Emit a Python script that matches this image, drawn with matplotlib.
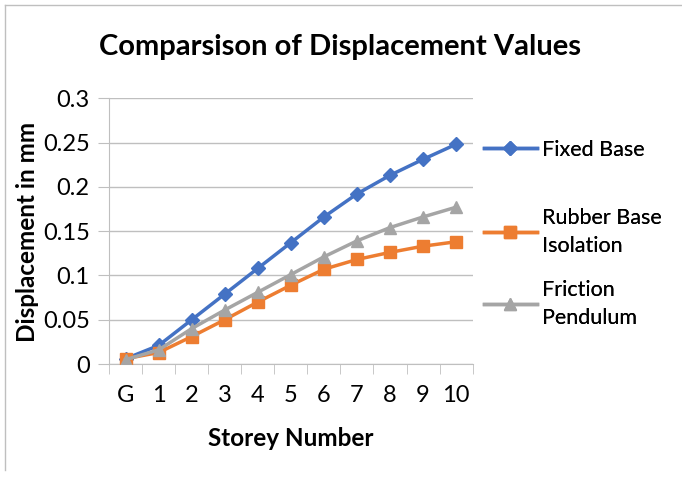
import matplotlib.pyplot as plt
from matplotlib.lines import Line2D

plt.rcParams['font.family'] = ['Lato', 'DejaVu Sans']

storeys = ["G", "1", "2", "3", "4", "5", "6", "7", "8", "9", "10"]
fixed_base = [0.006, 0.021, 0.050, 0.079, 0.108, 0.137, 0.166, 0.192, 0.213, 0.231, 0.248]
rubber_base = [0.006, 0.013, 0.031, 0.050, 0.070, 0.089, 0.107, 0.118, 0.126, 0.133, 0.138]
friction_pendulum = [0.005, 0.016, 0.040, 0.061, 0.081, 0.101, 0.121, 0.139, 0.154, 0.166, 0.177]
series_names = ["Fixed Base", "Rubber Base\nIsolation", "Friction\nPendulum"]
y_ticks = [0, 0.05, 0.1, 0.15, 0.2, 0.25, 0.3]
y_tick_labels = ["0", "0.05", "0.1", "0.15", "0.2", "0.25", "0.3"]

fig = plt.figure(figsize=(6.82, 4.79), dpi=100)
ax = fig.add_axes([0.160, 0.240, 0.533, 0.555])

x = list(range(len(storeys)))

l1, = ax.plot(x, fixed_base, color="#4472C4", lw=2.5, marker="D", ms=7,
              zorder=3)
l2, = ax.plot(x, rubber_base, color="#ED7D31", lw=2.5, marker="s", ms=8.5,
              zorder=3)
l3, = ax.plot(x, friction_pendulum, color="#A5A5A5", lw=2.5, marker="^", ms=9,
              zorder=4)

ax.set_xlim(-0.5, len(storeys) - 0.5)
ax.set_ylim(0, 0.3)
ax.set_xticks(x)
ax.set_xticklabels(storeys)
ax.set_xticks([i - 0.5 for i in range(len(storeys) + 1)], minor=True)
ax.set_yticks(y_ticks)
ax.set_yticklabels(y_tick_labels)

ax.tick_params(axis="x", which="major", length=0, pad=15, labelsize=17)
ax.tick_params(axis="x", which="minor", length=7, color="#bfbfbf", direction="out")
ax.tick_params(axis="y", length=8, color="#bfbfbf", pad=6, labelsize=17)

ax.grid(axis="y", color="#bfbfbf", lw=1)
ax.set_axisbelow(True)
for side in ["top", "right"]:
    ax.spines[side].set_visible(False)
for side in ["left", "bottom"]:
    ax.spines[side].set_color("#bfbfbf")

fig.text(0.499, 0.902, "Comparsison of Displacement Values",
         ha="center", va="center", fontsize=21, fontweight="bold")
fig.text(0.427, 0.084, "Storey Number", ha="center", va="center",
         fontsize=17.5, fontweight="bold")
fig.text(0.040, 0.516, "Displacement in mm", ha="center", va="center",
         rotation=90, fontsize=17.5, fontweight="bold")

# legend entries spaced like the Excel legend
legend_y = [150, 232, 304]
for handle, name, yy in zip([l1, l2, l3], series_names, legend_y):
    leg = fig.legend([handle], [name], loc="center left",
                     bbox_to_anchor=(484 / 682, 1 - yy / 479),
                     bbox_transform=fig.transFigure, frameon=False,
                     fontsize=15.5, handlelength=2.45, handletextpad=0.25,
                     borderpad=0, borderaxespad=0)
    for t in leg.get_texts():
        t.set_linespacing(1.45)
    fig.add_artist(leg)

# chart frame lines (top and left)
fig.add_artist(Line2D([0.008, 1.0], [0.990, 0.990], color="#bfbfbf", lw=1))
fig.add_artist(Line2D([0.008, 0.008], [0.018, 0.990], color="#bfbfbf", lw=1))

fig.savefig("out.png", dpi=100)
